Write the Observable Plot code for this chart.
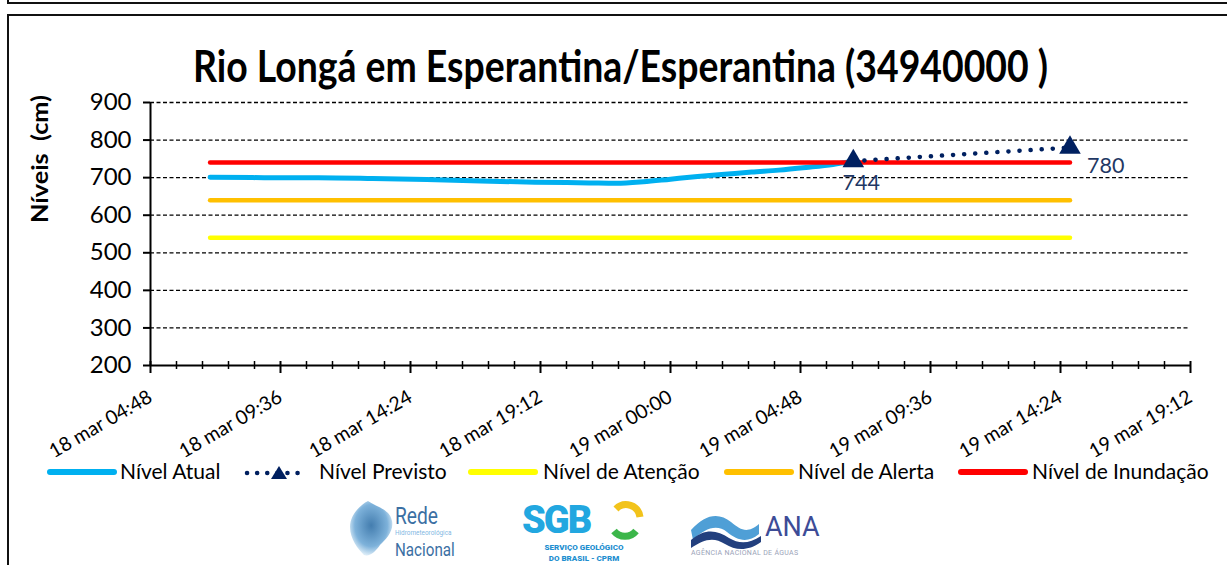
<!DOCTYPE html>
<html><head><meta charset="utf-8">
<script src="https://cdn.jsdelivr.net/npm/d3@7"></script>
<script src="https://cdn.jsdelivr.net/npm/@observablehq/plot@0.6"></script>
<style>
html,body{margin:0;padding:0;background:#fff;}
#root{position:relative;width:1227px;height:565px;overflow:hidden;font-family:Lato,"Open Sans",sans-serif;color:#000;}
.ln{position:absolute;background:#111;}
#title{position:absolute;left:193px;top:43px;font-size:44px;line-height:44px;font-weight:700;white-space:pre;transform-origin:0 0;}
#ylab{position:absolute;left:40px;top:159px;font-size:22px;font-weight:700;white-space:pre;line-height:22px;}
#chart{position:absolute;left:0;top:80px;}
.lg{position:absolute;top:459.5px;font-size:21px;line-height:21px;white-space:pre;}
.sw{position:absolute;top:464px;}
.logo{position:absolute;}
</style></head><body><div id="root">
<div class="ln" style="left:7px;top:0;width:2px;height:4px"></div>
<div class="ln" style="left:7px;top:2px;width:1220px;height:2px"></div>
<div class="ln" style="left:7px;top:14px;width:1220px;height:2px"></div>
<div class="ln" style="left:7px;top:14px;width:2px;height:551px"></div>
<div id="title"></div>
<div id="ylab"></div>
<div id="chart"></div>
<div id="legend"></div>
<div id="logos"></div>
</div>
<script>
// ---- data ----
const titleText = "Rio Longá em Esperantina/Esperantina (34940000 )";
const yLabel = "Níveis  (cm)";
const obsTimes = ["2024-03-18 07:00","2024-03-18 09:00","2024-03-18 11:00","2024-03-18 13:00","2024-03-18 15:00","2024-03-18 17:00","2024-03-18 19:00","2024-03-18 21:00","2024-03-18 22:00","2024-03-18 23:00","2024-03-19 00:00","2024-03-19 01:00","2024-03-19 02:00","2024-03-19 03:00","2024-03-19 04:00","2024-03-19 05:00","2024-03-19 06:00","2024-03-19 06:45"];
const obsValues = [701,700,700,698,695,691,688,686,685,689,696,703,709,715,720,727,735,744];
const prevTimes = ["2024-03-19 06:45","2024-03-19 14:45"];
const prevValues = [744,780];
const levelNames = ["Nível de Atenção","Nível de Alerta","Nível de Inundação"];
const levelValues = [540,640,740];
const levelSpan = ["2024-03-18 07:00","2024-03-19 14:45"];
const seriesNames = ["Nível Atual","Nível Previsto","Nível de Atenção","Nível de Alerta","Nível de Inundação"];
const xTickTimes = ["2024-03-18 04:48","2024-03-18 09:36","2024-03-18 14:24","2024-03-18 19:12","2024-03-19 00:00","2024-03-19 04:48","2024-03-19 09:36","2024-03-19 14:24","2024-03-19 19:12"];
const xTickLabels = ["18 mar 04:48","18 mar 09:36","18 mar 14:24","18 mar 19:12","19 mar 00:00","19 mar 04:48","19 mar 09:36","19 mar 14:24","19 mar 19:12"];
const yTicks = [200,300,400,500,600,700,800,900];

// ---- styles ----
const C = {atual:"#00B0F0", prev:"#002060", lab:"#1F3864",
  level:{"Nível de Atenção":"#FFFF00","Nível de Alerta":"#FFC000","Nível de Inundação":"#FF0000"}};

const parse = d3.utcParse("%Y-%m-%d %H:%M");
const majors = xTickTimes.map(parse);
const x0 = majors[0], x1 = majors[majors.length-1];
const step = (majors[1]-majors[0])/5;
const minors = d3.range(0, 41).filter(i=>i%5!==0).map(i=>new Date(+x0 + i*step));
const obs = obsTimes.map((t,i)=>({t:parse(t), v:obsValues[i]}));
const prev = prevTimes.map((t,i)=>({t:parse(t), v:prevValues[i]}));
const levels = levelNames.map((n,i)=>levelSpan.map(t=>({t:parse(t), v:levelValues[i], name:n})));

const W=1227,H=380,mt=22,mb=95,ml=150,mr=37, plotH=H-mt-mb;
const chart = Plot.plot({
  width:W,height:H,marginTop:mt,marginBottom:mb,marginLeft:ml,marginRight:mr,
  style:{fontFamily:"Lato, sans-serif",fontSize:"24px",color:"#000",background:"transparent",overflow:"visible"},
  x:{type:"utc",domain:[x0,x1]},
  y:{domain:[200,900]},
  marks:[
    Plot.ruleY(yTicks.slice(1),{stroke:"#000",strokeWidth:1.3,strokeDasharray:"4,2.5"}),
    Plot.ruleY([yTicks[0]],{stroke:"#000",strokeWidth:2}),
    Plot.ruleX([x0],{stroke:"#000",strokeWidth:2}),
    Plot.ruleX(majors,{stroke:"#000",strokeWidth:2,insetTop:plotH-4,insetBottom:-8}),
    Plot.ruleX(minors,{stroke:"#000",strokeWidth:1.5,insetTop:plotH-4,insetBottom:-4}),
    Plot.axisY({ticks:yTicks,tickSize:7,tickPadding:12,strokeWidth:2,tickFormat:d=>String(d),fontSize:24,label:null}),
    Plot.axisX({ticks:majors,tickSize:0,tickPadding:30,tickRotate:-30,fontSize:19.5,label:null,
      tickFormat:d=>xTickLabels[majors.findIndex(m=>+m===+d)]}),
    Plot.line(levels[0],{x:"t",y:"v",stroke:C.level[levelNames[0]],strokeWidth:4.5,strokeLinecap:"round"}),
    Plot.line(levels[1],{x:"t",y:"v",stroke:C.level[levelNames[1]],strokeWidth:4.5,strokeLinecap:"round"}),
    Plot.line(obs,{x:"t",y:"v",stroke:C.atual,strokeWidth:5,curve:"monotone-x",strokeLinecap:"round",strokeLinejoin:"round"}),
    Plot.line(levels[2],{x:"t",y:"v",stroke:C.level[levelNames[2]],strokeWidth:4.5,strokeLinecap:"round"}),
    Plot.line(prev,{x:"t",y:"v",stroke:C.prev,strokeWidth:4.5,strokeDasharray:"0.1 11",strokeLinecap:"round"}),
    Plot.dot(prev,{x:"t",y:"v",symbol:"triangle",r:8,fill:C.prev,stroke:null}),
    Plot.text(prev.filter((d,i)=>i===0),{x:"t",y:"v",text:d=>String(d.v),fill:C.lab,fontSize:21.5,dx:8,dy:22}),
    Plot.text(prev.filter((d,i)=>i===1),{x:"t",y:"v",text:d=>String(d.v),fill:C.lab,fontSize:21.5,dx:17,dy:19,textAnchor:"start"})
  ]
});
document.getElementById("chart").appendChild(chart);

// title, scaled to the reference width
const tEl = document.getElementById("title");
tEl.textContent = titleText;
const tw = tEl.getBoundingClientRect().width;
tEl.style.transform = `scaleX(${855/tw})`;
// y label, rotated and stretched to the reference length
const yEl = document.getElementById("ylab");
yEl.textContent = yLabel;
const yw = yEl.getBoundingClientRect().width;
yEl.style.transform = `translate(-50%,-50%) rotate(-90deg) scaleX(${128/yw})`;

// legend
const lg = document.getElementById("legend");
const items = [
  {x:47,w:70,tx:120,kind:"line",c:C.atual},
  {x:243,w:66,tx:319,kind:"prev",c:C.prev},
  {x:468,w:70,tx:543,kind:"line",c:C.level[levelNames[0]]},
  {x:724,w:70,tx:798,kind:"line",c:C.level[levelNames[1]]},
  {x:958,w:70,tx:1032,kind:"line",c:C.level[levelNames[2]]}
];
items.forEach((it,i)=>{
  let svg;
  if(it.kind==="line"){
    svg=`<svg class="sw" style="left:${it.x}px" width="${it.w}" height="16"><line x1="3" y1="8" x2="${it.w-3}" y2="8" stroke="${it.c}" stroke-width="6" stroke-linecap="round"/></svg>`;
  } else {
    svg=`<svg class="sw" style="left:${it.x}px" width="${it.w}" height="16"><line x1="4" y1="9" x2="${it.w-4}" y2="9" stroke="${it.c}" stroke-width="4.5" stroke-dasharray="0.1 10" stroke-linecap="round"/><path d="M36,2 L44,15 L28,15 Z" fill="${it.c}"/></svg>`;
  }
  lg.insertAdjacentHTML("beforeend", svg + `<div class="lg" style="left:${it.tx}px">${seriesNames[i]}</div>`);
});

// logos (text approximations)
document.getElementById("logos").innerHTML = `
<svg class="logo" style="left:340px;top:495px" width="160" height="70">
  <defs><radialGradient id="g1" cx="50%" cy="45%" r="55%"><stop offset="0" stop-color="#2f6fa6"/><stop offset="0.7" stop-color="#6fa9d6"/><stop offset="1" stop-color="#d6e9f6"/></radialGradient></defs>
  <path d="M28,6 C36,12 50,14 52,26 C54,36 46,44 40,50 C36,56 30,62 24,60 C18,54 10,44 10,32 C10,20 20,10 28,6 Z" fill="url(#g1)" opacity="0.9"/>
  <text x="55" y="29" font-family="Roboto, sans-serif" font-size="24" fill="#3b6fa3" transform="scale(0.8,1)" transform-origin="55 0">Rede</text>
  <text x="55" y="40" font-family="Roboto, sans-serif" font-size="8" fill="#7fb8e3" transform="scale(0.8,1)" transform-origin="55 0">Hidrometeorológica</text>
  <text x="55" y="61" font-family="Roboto, sans-serif" font-size="19" fill="#3b6fa3" transform="scale(0.8,1)" transform-origin="55 0">Nacional</text>
</svg>
<svg class="logo" style="left:518px;top:495px" width="140" height="70">
  <text x="4" y="38" font-family="Roboto, sans-serif" font-weight="900" font-size="38" fill="#22a7e0" letter-spacing="-2">SGB</text>
  <path d="M98,14 A14,14 0 0 1 122,22" stroke="#f2c31b" stroke-width="7" fill="none"/>
  <path d="M118,36 A14,14 0 0 1 96,36" stroke="#3cb64a" stroke-width="7" fill="none"/>
  <text x="66" y="55" text-anchor="middle" font-family="Roboto, sans-serif" font-weight="900" font-size="8" fill="#1f8fd0">SERVIÇO GEOLÓGICO</text>
  <text x="66" y="65.5" text-anchor="middle" font-family="Roboto, sans-serif" font-weight="900" font-size="8" fill="#1f8fd0">DO BRASIL - CPRM</text>
</svg>
<svg class="logo" style="left:685px;top:500px" width="150" height="65">
  <path d="M6,30 C20,14 34,12 46,22 C56,30 62,34 74,24 L74,34 C62,44 52,40 42,32 C32,24 20,28 8,40 Z" fill="#4f9fd6"/>
  <path d="M6,40 C20,28 32,30 44,38 C54,44 64,44 76,36 L76,42 C62,52 50,50 40,44 C28,36 18,40 6,48 Z" fill="#23407e"/>
  <text x="80" y="36" font-family="Roboto, sans-serif" font-size="27" fill="#3d4c97">ANA</text>
  <text x="6" y="55" font-family="Roboto, sans-serif" font-size="7" fill="#9aa3b8" letter-spacing="0.3">AGÊNCIA NACIONAL DE ÁGUAS</text>
</svg>`;
</script>
</body></html>
